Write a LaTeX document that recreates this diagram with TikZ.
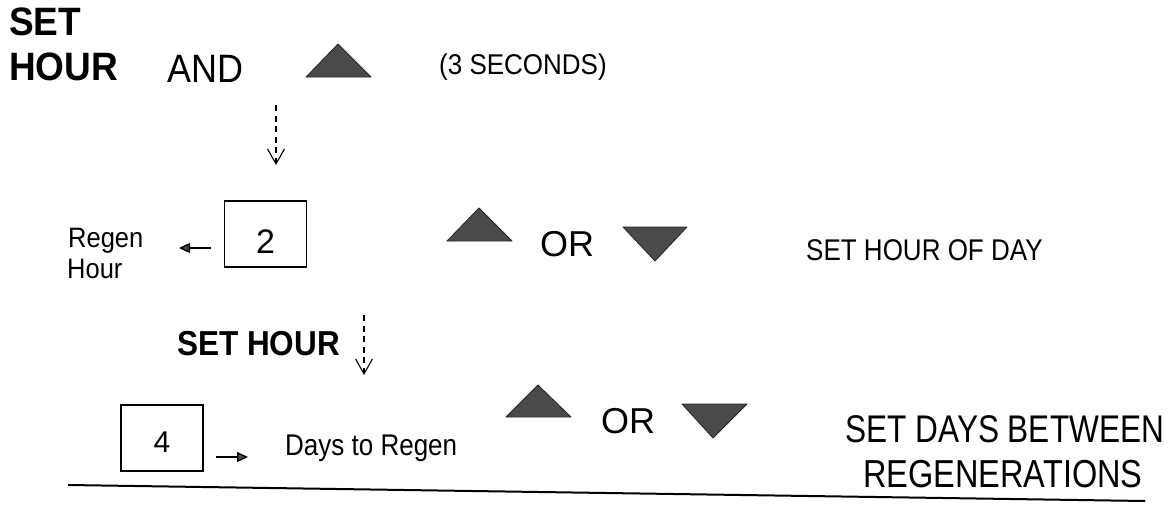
\documentclass[tikz,border=0pt]{standalone}
\usepackage{fontspec}
\setmainfont{Liberation Sans}
\usetikzlibrary{arrows.meta}
\newcommand\fsz[1]{\fontsize{#1}{#1}\selectfont}
\newcommand\vstr[2]{\scalebox{1}[#1]{#2}}
\definecolor{trigray}{HTML}{4A4A4A}
\tikzset{
  txt/.style={inner sep=0pt, anchor=base west},
  digitbox/.style={draw, line width=1.5pt, minimum width=82pt, minimum height=66pt, inner sep=0pt, text depth=0pt},
  tri/.style={fill=trigray, draw=black!85, line width=0.8pt, line join=round},
  smallarr/.style={line width=1.4pt, -{Triangle[length=11pt,width=10pt,fill=trigray]}},
  dasharr/.style={line width=1.1pt, dash pattern=on 6pt off 4.5pt, -{Straight Barb[length=15pt,width=17pt,line width=1.1pt]}},
}
\begin{document}
\begin{tikzpicture}[x=1pt,y=-1pt]
\useasboundingbox (0,0) rectangle (1176,509);
% ---- row 1
\node[txt,font=\bfseries\fsz{37}] (set) at (9,35) {\vstr{1.07}{SET}};
\node[txt,font=\bfseries\fsz{37}] (hour) at (9,80) {\vstr{1.07}{HOUR}};
\node[txt,font=\fsz{36}] (and) at (167,82) {\vstr{1.1}{AND}};
\draw[tri] (306,77) -- (371,77) -- (338,44) -- cycle;
\node[txt,font=\fsz{26}] (sec) at (439,74) {\vstr{1.1}{(3 SECONDS)}};
\coordinate (d1s) at (276,105);
\coordinate (d1e) at (276,165);
\draw[dasharr] (d1s) -- (d1e);
% ---- row 2
\node[txt,font=\fsz{25.5}] (regen) at (68,247) {\vstr{1.1}{Regen}};
\node[txt,font=\fsz{25.5}] (hr) at (67,278) {\vstr{1.1}{Hour}};
\node[digitbox,font=\fsz{34},text height=38pt] (b2) at (265.5,234) {2};
\coordinate (a1s) at (211,248);
\coordinate (a1e) at (179,248);
\draw[smallarr] (a1s) -- (a1e);
\draw[tri] (447,241) -- (512,241) -- (479,208) -- cycle;
\node[txt,font=\fsz{36}] (or1) at (540,256) {OR};
\draw[tri] (623,227) -- (687,227) -- (655,261) -- cycle;
\node[txt,font=\fsz{26}] (hod) at (806,260) {\vstr{1.15}{SET HOUR OF DAY}};
\node[txt,font=\bfseries\fsz{31.5}] (sethour) at (177,355) {\vstr{1.1}{SET HOUR}};
\coordinate (d2s) at (364,315);
\coordinate (d2e) at (364,375);
\draw[dasharr] (d2s) -- (d2e);
% ---- row 3
\node[digitbox,font=\fsz{30},text height=28pt] (b4) at (162,438) {4};
\coordinate (a2s) at (216,457);
\coordinate (a2e) at (248,457);
\draw[smallarr] (a2s) -- (a2e);
\node[txt,font=\fsz{26}] (days) at (285,455) {\vstr{1.15}{Days to Regen}};
\draw[tri] (506,417) -- (571,417) -- (538,385) -- cycle;
\node[txt,font=\fsz{36}] (or2) at (601,433) {OR};
\draw[tri] (682,404) -- (747,404) -- (713,438) -- cycle;
\node[txt,font=\fsz{31.6}] (sdb) at (845,442) {\vstr{1.22}{SET DAYS BETWEEN}};
\node[txt,font=\fsz{32.5}] (regens) at (863,487) {\vstr{1.2}{REGENERATIONS}};
% ---- bottom rule
\coordinate (l1) at (68,485);
\coordinate (l2) at (1145,501);
\draw[line width=2pt] (l1) -- (l2);
\end{tikzpicture}
\end{document}
